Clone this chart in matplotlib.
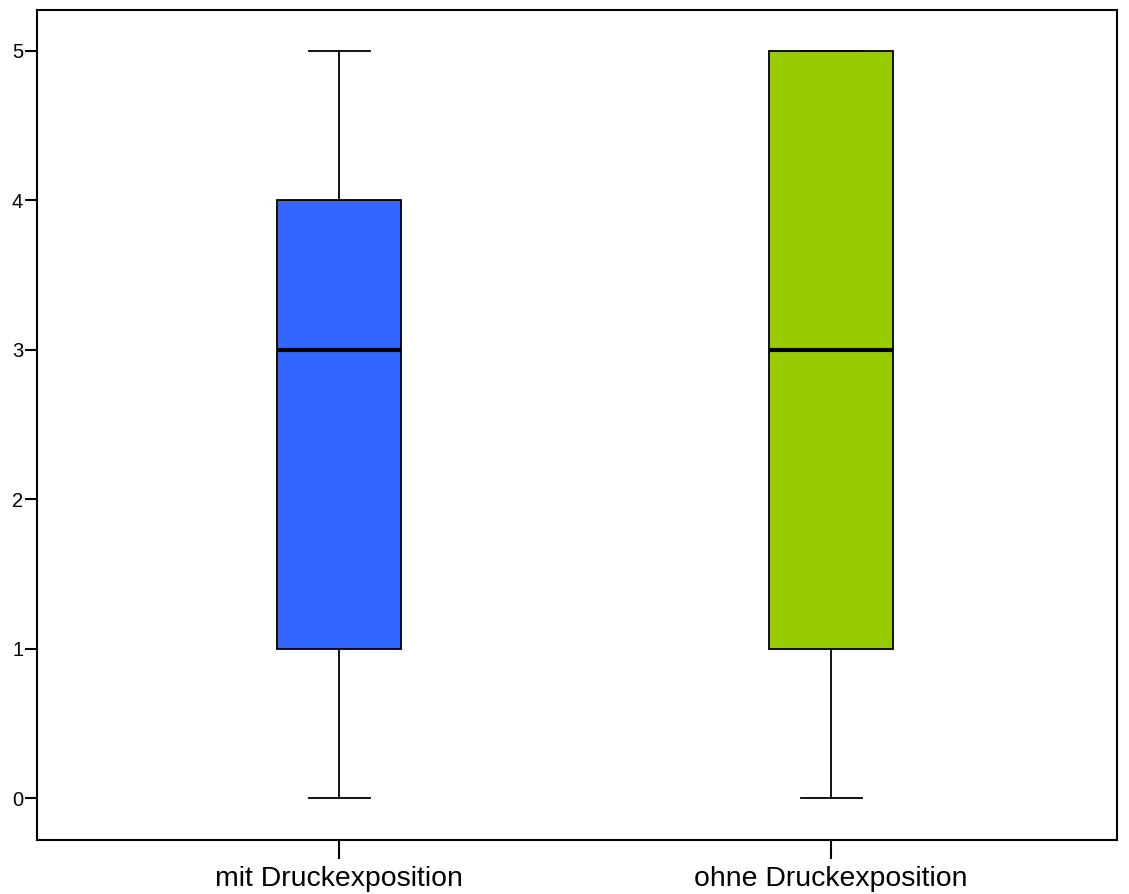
import matplotlib
matplotlib.use("Agg")
import matplotlib.pyplot as plt

plt.rcParams['font.family'] = ['Liberation Sans', 'DejaVu Sans']

# Gruppen und Kennwerte der Boxplots
gruppen = ['mit Druckexposition', 'ohne Druckexposition']
minimum = [0, 0]
q1 = [1, 1]
median = [3, 3]
q3 = [4, 5]
maximum = [5, 5]
farben = ['#3366FF', '#99CC00']

stats = []
for i in range(len(gruppen)):
    stats.append({'label': gruppen[i], 'whislo': minimum[i], 'q1': q1[i],
                  'med': median[i], 'q3': q3[i], 'whishi': maximum[i], 'fliers': []})

fig = plt.figure(figsize=(11.29, 8.94), dpi=100)
ax = fig.add_axes([0.0328, 0.0604, 0.9566, 0.9284])

bp = ax.bxp(stats, positions=[1, 2], widths=0.252, patch_artist=True, showfliers=False,
            boxprops=dict(linewidth=1.3, edgecolor='black'),
            whiskerprops=dict(linewidth=1.3, color='black'),
            capprops=dict(linewidth=1.3, color='black'),
            medianprops=dict(linewidth=3, color='black'))
for cap in bp['caps']:
    x0, x1 = cap.get_xdata()
    m = (x0 + x1) / 2
    cap.set_xdata([m - 0.062, m + 0.062])
for patch, farbe in zip(bp['boxes'], farben):
    patch.set_facecolor(farbe)

ax.set_xlim(0.386, 2.581)
ax.set_ylim(-0.281, 5.274)
ax.set_yticks([0, 1, 2, 3, 4, 5])
ax.set_xticks([1, 2])
ax.set_xticklabels(gruppen, fontsize=20.4)
ax.tick_params(axis='y', labelsize=14.5, length=9, width=1.5, pad=1)
ax.tick_params(axis='x', length=14, width=1.5, pad=5)
for s in ax.spines.values():
    s.set_linewidth(1.5)

fig.savefig('out.png', dpi=100)
